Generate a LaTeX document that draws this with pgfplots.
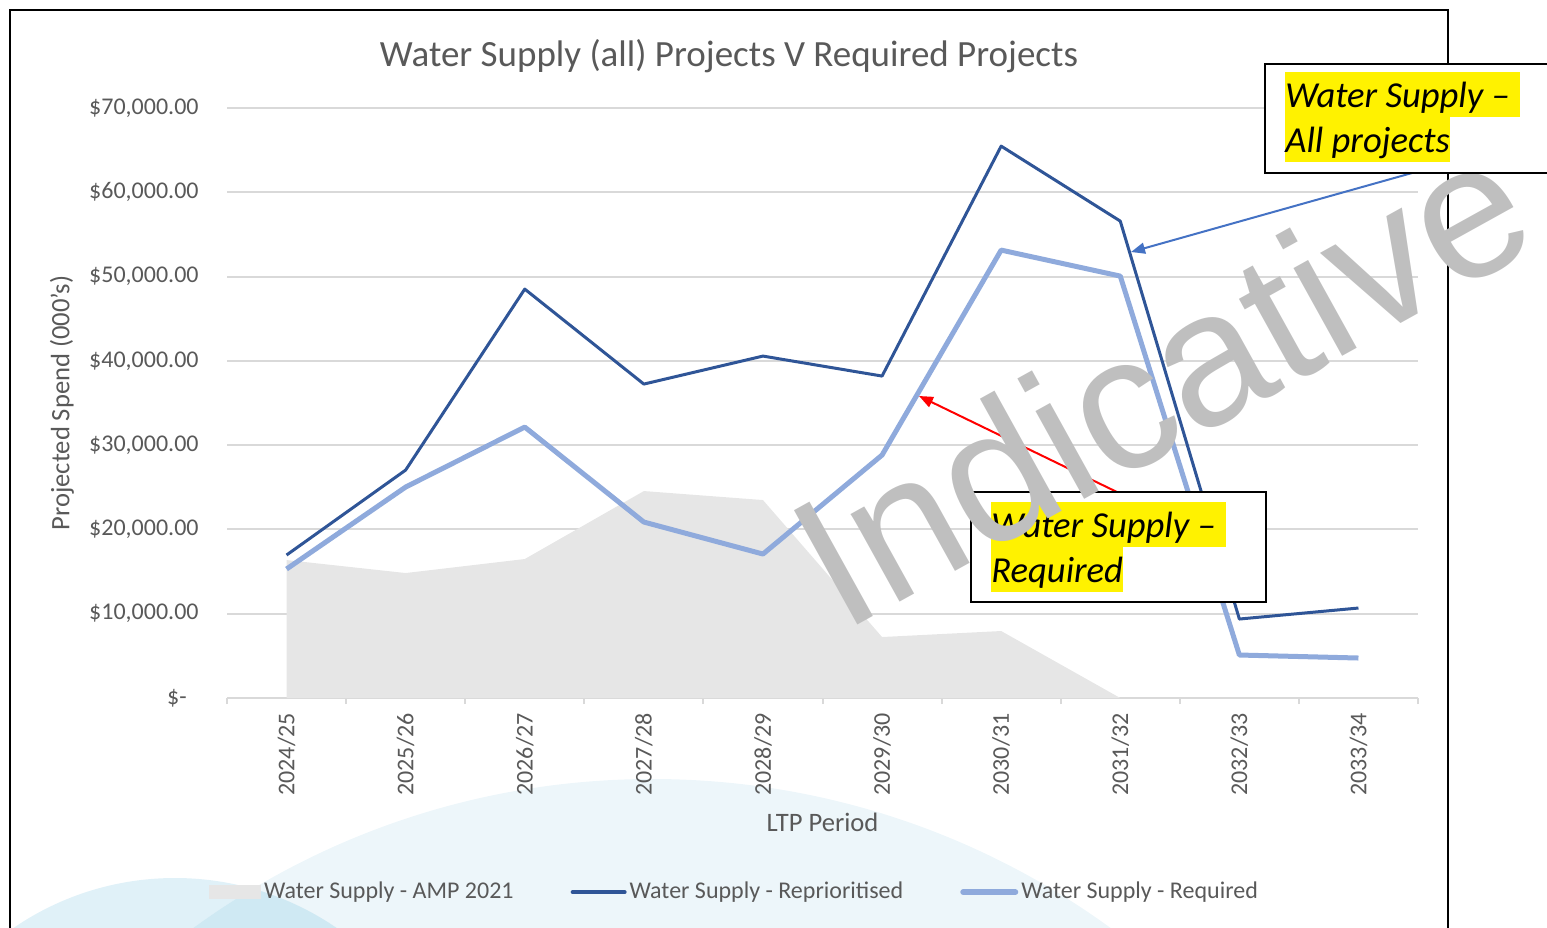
\documentclass[border=0pt]{standalone}
\usepackage{fontspec}
\setmainfont{Carlito}
\newfontfamily\arialfont{Liberation Sans}
\usepackage{pgfplots}
\pgfplotsset{compat=1.18}
\usetikzlibrary{arrows.meta}
\definecolor{txt}{HTML}{595959}
\definecolor{gridc}{HTML}{D9D9D9}
\definecolor{darkb}{HTML}{2F5597}
\definecolor{lightb}{HTML}{8FAADC}
\definecolor{areac}{HTML}{E6E6E6}
\definecolor{arrowb}{HTML}{4472C4}
\definecolor{indg}{HTML}{BFBFBF}
\definecolor{bgA}{HTML}{EDF6FA}
\definecolor{bgB}{HTML}{E0F1F8}
\definecolor{bgC}{HTML}{CFE9F3}
\begin{document}
\begin{tikzpicture}
\begin{scope}[x=0.5pt,y=-0.5pt]
\begin{scope}
\clip (0,0) rectangle (1547,927);
\fill[bgA] (652,1559) circle (390pt);
\fill[bgB] (175,1164) circle (143pt);
\begin{scope}
\clip (652,1559) circle (390pt);
\fill[bgC] (175,1164) circle (143pt);
\end{scope}
\end{scope}
\end{scope}
\begin{axis}[
  at={(113.5pt,-349pt)}, anchor=south west,
  scale only axis, width=595.5pt, height=295pt,
  xmin=-0.5, xmax=9.5, ymin=0, ymax=70000,
  scaled y ticks=false,
  axis line style={draw=none},
  tick pos=left,
  tick align=outside,
  xtick={0,...,9},
  xticklabels={2024/25,2025/26,2026/27,2027/28,2028/29,2029/30,2030/31,2031/32,2032/33,2033/34},
  minor xtick={-0.5,0.5,1.5,2.5,3.5,4.5,5.5,6.5,7.5,8.5,9.5},
  major tick length=0pt,
  minor tick length=3pt,
  minor tick style={draw=gridc, line width=1pt},
  ytick={0,10000,20000,30000,40000,50000,60000,70000},
  yticklabels={{\$-\kern6pt},{\$10,000.00},{\$20,000.00},{\$30,000.00},{\$40,000.00},{\$50,000.00},{\$60,000.00},{\$70,000.00}},
  ymajorgrids,
  grid style={draw=gridc, line width=1pt},
  ticklabel style={font=\fontsize{12pt}{14pt}\selectfont, text=txt},
  yticklabel style={anchor=east, inner sep=0pt, xshift=-14pt},
  xticklabel style={rotate=90, anchor=east, inner sep=7.5pt},
  xlabel={LTP Period},
  ylabel={Projected Spend (000's)},
  label style={font=\fontsize{13.3pt}{15pt}\selectfont, text=txt},
  xlabel style={at={(axis description cs:0.5,-0.2102)}, anchor=center},
  ylabel style={at={(axis description cs:-0.1385,0.5)}, anchor=center},
  title={Water Supply (all) Projects V Required Projects},
  title style={font=\fontsize{18.5pt}{21pt}\selectfont, text=txt, at={(axis description cs:0.4215,1.0915)}, anchor=center, yshift=-7pt},
  legend style={at={(axis description cs:0.4265,-0.329)}, anchor=center, draw=none, fill=none,
    legend columns=3, font=\fontsize{12pt}{14pt}\selectfont, text=txt,
    /tikz/every even column/.append style={column sep=27pt},
    nodes={inner xsep=1.5pt}},
  legend cell align=left,
]
\addplot[fill=areac, draw=none, area legend,
  legend image code/.code={\fill[areac] (0pt,-3.5pt) rectangle (26pt,3.5pt);}]
  coordinates {(0,16370) (1,14828) (2,16489) (3,24555) (4,23488) (5,7236) (6,7948) (7,0)} \closedcycle;
\addlegendentry{Water Supply - AMP 2021}
\addplot[darkb, line width=1.5pt, line join=round, mark=none,
  legend image code/.code={\draw[darkb, line width=2pt, line cap=round] (0pt,0pt) -- (26pt,0pt);}]
  coordinates {(0,16963) (1,27046) (2,48517) (3,37248) (4,40569) (5,38197) (6,65480) (7,56584) (8,9371) (9,10676)};
\addlegendentry{Water Supply - Reprioritised}
\addplot[lightb, line width=2.5pt, line join=round, mark=none,
  legend image code/.code={\draw[lightb, line width=3pt, line cap=round] (0pt,0pt) -- (26pt,0pt);}]
  coordinates {(0,15302) (1,25030) (2,32147) (3,20878) (4,17082) (5,28826) (6,53144) (7,50059) (8,5101) (9,4745)};
\addlegendentry{Water Supply - Required}
\end{axis}
\begin{scope}[x=0.5pt,y=-0.5pt]
\draw[black, line width=1pt] (10,940) -- (10,10) -- (1448,10) -- (1448,940);
\draw[arrowb, line width=1pt, -{Triangle[length=7pt,width=5.5pt]}] (1412,173) -- (1131,252);
\draw[red, line width=1pt, -{Triangle[length=7pt,width=5.5pt]}] (1119,493) -- (919,396);
\draw[black, fill=white, line width=1pt] (971,492) rectangle (1266,602);
\tikzset{hl/.style={anchor=north west, fill=yellow, inner sep=0pt, text height=17.5pt, text depth=5pt, font=\itshape\fontsize{18.3pt}{22pt}\selectfont}}
\node[hl] at (991,502) {Water Supply –\kern5pt};
\node[hl] at (991,547) {Required};
\node[rotate=29, anchor=base west, inner sep=0pt, text=indg, font=\arialfont\fontsize{95pt}{95pt}\selectfont] at (842,634) {Indicative};
\draw[black, fill=white, line width=1pt] (1265,64) rectangle (1600,173);
\node[hl] at (1285,72) {Water Supply –\kern5pt};
\node[hl] at (1285,117) {All projects};
\pgfresetboundingbox
\path[use as bounding box] (0,0) rectangle (1547,927);
\end{scope}
\end{tikzpicture}
\end{document}
